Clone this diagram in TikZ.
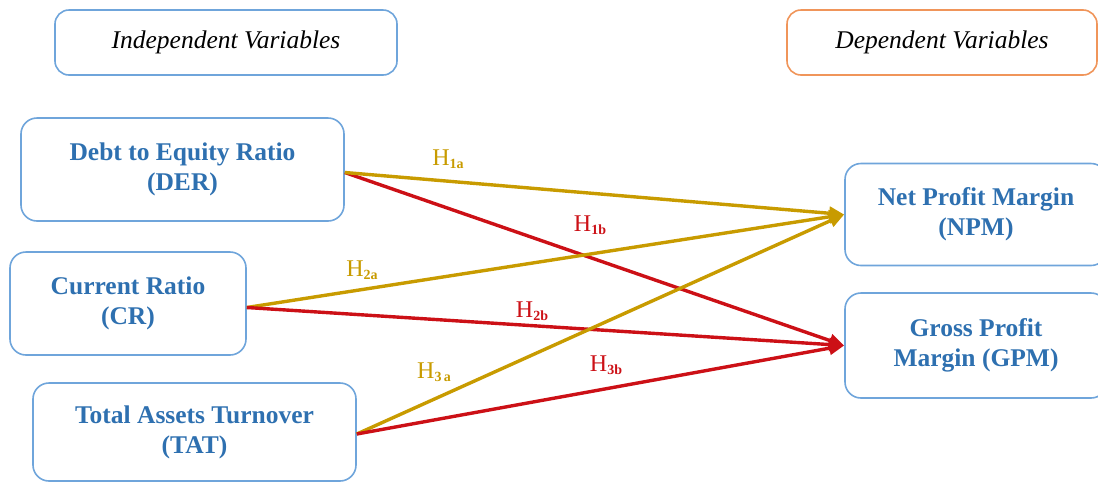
\documentclass[tikz,border=0pt]{standalone}
\usepackage{fontspec}
\setmainfont{Liberation Serif}
\usetikzlibrary{arrows.meta}
\definecolor{boxblue}{HTML}{6FA5DB}
\definecolor{txtblue}{HTML}{2E70B0}
\definecolor{boxorange}{HTML}{F0955A}
\definecolor{gold}{HTML}{C89B00}
\definecolor{hred}{HTML}{CC1016}
\tikzset{
  varbox/.style={draw=boxblue, line width=1.6pt, rounded corners=16pt, align=center,
     text=txtblue, font=\fontsize{25.5}{30}\selectfont\bfseries, inner sep=0pt},
  headbox/.style={draw=#1, line width=1.6pt, rounded corners=14pt, align=center,
     font=\fontsize{25.5}{30}\selectfont\itshape, inner sep=0pt},
  garrow/.style={draw=gold, line width=3.4pt, -{Triangle[length=15pt,width=13pt]}},
  rarrow/.style={draw=hred, line width=3.4pt, -{Triangle[length=15pt,width=13pt]}},
  glab/.style={text=gold, font=\fontsize{24}{26}\selectfont},
  rlab/.style={text=hred, font=\fontsize{24}{26}\selectfont},
}
\newcommand{\hyp}[1]{H\raisebox{-0.3ex}{\fontsize{14}{14}\selectfont\bfseries #1}}
\begin{document}
\begin{tikzpicture}[x=1pt,y=-1pt]
\useasboundingbox (0,0) rectangle (1098,483);
\node[headbox=boxblue, minimum width=342pt, minimum height=65pt] (indep) at (226,42.5) {Independent Variables};
\node[headbox=boxorange, minimum width=310pt, minimum height=65pt] (dep) at (942,42.5) {Dependent Variables};
\node[varbox, minimum width=323pt, minimum height=103pt] (der) at (182.5,169.5) {Debt to Equity Ratio\\(DER)};
\node[varbox, minimum width=236pt, minimum height=103pt] (cr) at (128,303.5) {Current Ratio\\(CR)};
\node[varbox, minimum width=323pt, minimum height=98pt] (tat) at (194.5,432) {Total Assets Turnover\\(TAT)};
\node[varbox, minimum width=262pt, minimum height=102pt] (npm) at (976,214.5) {Net Profit Margin\\(NPM)};
\node[varbox, minimum width=262pt, minimum height=105pt] (gpm) at (976,345.5) {Gross Profit\\Margin (GPM)};
\coordinate (derS) at ([yshift=-3pt]der.east);
\coordinate (crS) at ([yshift=-4pt]cr.east);
\coordinate (tatS) at ([yshift=-2pt]tat.east);
\draw[rarrow] (derS) -- (gpm.west);
\draw[garrow] (derS) -- (npm.west);
\draw[garrow] (crS) -- (npm.west);
\draw[rarrow] (crS) -- (gpm.west);
\draw[garrow] (tatS) -- (npm.west);
\draw[rarrow] (tatS) -- (gpm.west);
\node[glab] (h1a) at (448,159) {\hyp{1a}};
\node[rlab] (h1b) at (590,225) {\hyp{1b}};
\node[glab] (h2a) at (362,270) {\hyp{2a}};
\node[rlab] (h2b) at (532,311) {\hyp{2b}};
\node[glab] (h3a) at (434,372) {\hyp{3\,a}};
\node[rlab] (h3b) at (606,365) {\hyp{3b}};
\end{tikzpicture}
\end{document}
